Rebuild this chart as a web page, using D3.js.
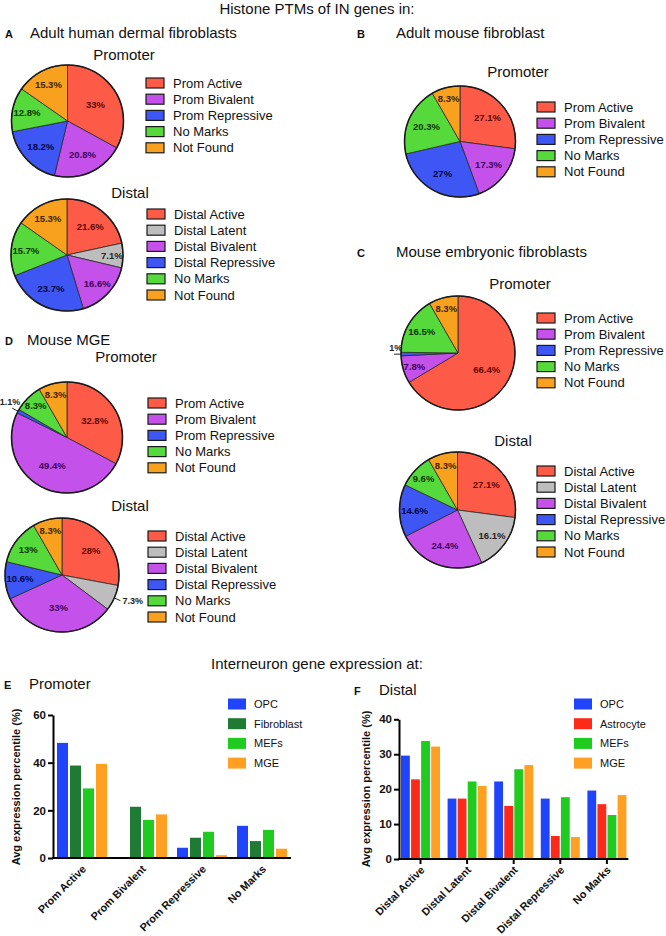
<!DOCTYPE html>
<html>
<head>
<meta charset="utf-8">
<script src="https://cdn.jsdelivr.net/npm/d3@7"></script>
<style>
  html, body { margin: 0; padding: 0; background: #fff; }
  svg { display: block; font-family: "Liberation Sans", Arial, Helvetica, sans-serif; }
</style>
</head>
<body>
<svg id="chart" width="666" height="936"></svg>
<script>
// ---------------- DATA ----------------
const promCats = ["Prom Active", "Prom Bivalent", "Prom Repressive", "No Marks", "Not Found"];
const distCats = ["Distal Active", "Distal Latent", "Distal Bivalent", "Distal Repressive", "No Marks", "Not Found"];

const humanPromoter = [33, 20.8, 18.2, 12.8, 15.3];
const humanDistal   = [21.6, 7.1, 16.6, 23.7, 15.7, 15.3];
const mousePromoter = [27.1, 17.3, 27, 20.3, 8.3];
const mefPromoter   = [66.4, 7.8, 1, 16.5, 8.3];
const mefDistal     = [27.1, 16.1, 24.4, 14.6, 9.6, 8.3];
const mgePromoter   = [32.8, 49.4, 1.1, 8.3, 8.3];
const mgeDistal     = [28, 7.3, 33, 10.6, 13, 8.3];

const promBarCats = ["Prom Active", "Prom Bivalent", "Prom Repressive", "No Marks"];
const promSeries  = ["OPC", "Fibroblast", "MEFs", "MGE"];
const promOPC        = [48.3, 0, 4.3, 13.5];
const promFibroblast = [38.8, 21.5, 8.5, 7.1];
const promMEFs       = [29.2, 16.0, 11.0, 11.8];
const promMGE        = [39.5, 18.3, 1.2, 3.9];
const promTicks      = [0, 20, 40, 60];

const distBarCats = ["Distal Active", "Distal Latent", "Distal Bivalent", "Distal Repressive", "No Marks"];
const distSeries  = ["OPC", "Astrocyte", "MEFs", "MGE"];
const distOPC       = [29.6, 17.3, 22.2, 17.3, 19.6];
const distAstrocyte = [22.8, 17.3, 15.2, 6.6, 15.7];
const distMEFs      = [33.8, 22.2, 25.7, 17.7, 12.6];
const distMGE       = [32.2, 20.9, 26.9, 6.3, 18.3];
const distTicks     = [0, 10, 20, 30, 40];

// ---------------- STYLE ----------------
const markColor = {
  "Active": "#fd5a48", "Latent": "#bdbdbd", "Bivalent": "#c451ea",
  "Repressive": "#3e56f4", "No Marks": "#55d93b", "Not Found": "#f8a11e"
};
const markLabel = {
  "Active": "#5e0800", "Latent": "#222222", "Bivalent": "#40005a",
  "Repressive": "#000640", "No Marks": "#0a3600", "Not Found": "#402300"
};
function markKey(cat) {
  if (cat === "No Marks" || cat === "Not Found") return cat;
  return cat.split(" ")[1];
}
const seriesColor = {
  "OPC": "#1f44fb", "Fibroblast": "#1f7a33", "MEFs": "#1ecb1e",
  "MGE": "#ffa022", "Astrocyte": "#fd2a1a"
};
const FONT = '"Liberation Sans", Arial, Helvetica, sans-serif';

const svg = d3.select("#chart");
svg.append("rect").attr("width", 666).attr("height", 936).attr("fill", "#fff");

function text(x, y, s, opts = {}) {
  return svg.append("text").attr("x", x).attr("y", y)
    .attr("font-size", opts.size || 15)
    .attr("font-weight", opts.weight || "normal")
    .attr("text-anchor", opts.anchor || "start")
    .attr("fill", opts.fill || "#111")
    .text(s);
}

// ---------------- HEADINGS ----------------
text(317, 14, "Histone PTMs of IN genes in:", {anchor: "middle"});
text(5, 38, "A", {size: 11, weight: "bold"});
text(30, 38, "Adult human dermal fibroblasts");
text(357, 38, "B", {size: 11, weight: "bold"});
text(396, 38, "Adult mouse fibroblast");
text(357, 257, "C", {size: 11, weight: "bold"});
text(396, 257, "Mouse embryonic fibroblasts");
text(5, 345, "D", {size: 11, weight: "bold"});
text(27, 345, "Mouse MGE");

text(317, 669, "Interneuron gene expression at:", {anchor: "middle"});
text(4, 689, "E", {size: 11, weight: "bold"});
text(29, 689, "Promoter");
text(354, 695, "F", {size: 11, weight: "bold"});
text(379, 695, "Distal");

// ---------------- PIES ----------------
const pies = [
  {vals: humanPromoter, cats: promCats, cx: 67.5, cy: 121, r: 56, title: "Promoter", tx: 124, ty: 60, lx: 146, ly: 83, outside: []},
  {vals: humanDistal,   cats: distCats, cx: 67,   cy: 255, r: 56, title: "Distal",   tx: 130, ty: 198, lx: 147, ly: 214, outside: []},
  {vals: mousePromoter, cats: promCats, cx: 460,  cy: 141.5, r: 55.5, title: "Promoter", tx: 518, ty: 77, lx: 537, ly: 107, outside: []},
  {vals: mefPromoter,   cats: promCats, cx: 458,  cy: 353, r: 57, title: "Promoter", tx: 520, ty: 289, lx: 537, ly: 318, outside: [2]},
  {vals: mefDistal,     cats: distCats, cx: 457.5, cy: 510, r: 58, title: "Distal", tx: 513, ty: 446, lx: 537, ly: 471, outside: []},
  {vals: mgePromoter,   cats: promCats, cx: 67,   cy: 437.5, r: 55.5, title: "Promoter", tx: 126, ty: 362, lx: 148, ly: 403, outside: [2]},
  {vals: mgeDistal,     cats: distCats, cx: 62,   cy: 575, r: 57, title: "Distal", tx: 130, ty: 511, lx: 148, ly: 536, outside: [1]}
];

function labelFactor(v) {
  if (v < 10) return 0.8;
  if (v < 17) return 0.74;
  if (v < 30) return 0.66;
  return 0.58;
}

pies.forEach(p => {
  text(p.tx, p.ty, p.title, {anchor: "middle"});
  const g = svg.append("g").attr("transform", `translate(${p.cx},${p.cy})`);
  const data = p.vals.map((v, i) => ({v, cat: p.cats[i], i}));
  const arcs = d3.pie().sort(null).value(d => d.v)(data);
  const arc = d3.arc().innerRadius(0).outerRadius(p.r);
  g.selectAll("path.slice").data(arcs).join("path")
    .attr("class", "slice")
    .attr("d", arc)
    .attr("fill", d => markColor[markKey(d.data.cat)])
    .attr("stroke", "#2a2a2a").attr("stroke-width", 0.8);
  g.append("circle").attr("r", p.r).attr("fill", "none")
    .attr("stroke", "#1a1a1a").attr("stroke-width", 1.5);

  arcs.forEach(a => {
    const mid = (a.startAngle + a.endAngle) / 2;
    const sx = Math.sin(mid), sy = -Math.cos(mid);
    const lbl = a.data.v + "%";
    if (p.outside.includes(a.data.i)) {
      const x0 = sx * p.r, y0 = sy * p.r;
      const x1 = sx * p.r * 1.12, y1 = sy * p.r * 1.12;
      g.append("line").attr("x1", x0).attr("y1", y0).attr("x2", x1).attr("y2", y1)
        .attr("stroke", "#222").attr("stroke-width", 1);
      const left = sx < 0;
      g.append("text")
        .attr("x", left ? x1 + 8 : x1 + 2)
        .attr("y", left ? y1 - 3 : y1 + 3.5)
        .attr("text-anchor", left ? "end" : "start")
        .attr("font-size", 9).attr("font-weight", "bold").attr("fill", "#222")
        .text(lbl);
    } else {
      const f = labelFactor(a.data.v) * p.r;
      g.append("text")
        .attr("x", sx * f).attr("y", sy * f)
        .attr("dy", "0.35em")
        .attr("text-anchor", "middle")
        .attr("font-size", 9.5).attr("font-weight", "bold")
        .attr("fill", markLabel[markKey(a.data.cat)])
        .text(lbl);
    }
  });

  // legend
  const lg = svg.append("g").attr("transform", `translate(${p.lx},${p.ly})`);
  p.cats.forEach((c, i) => {
    const row = lg.append("g").attr("transform", `translate(0,${i * 16.2})`);
    row.append("rect").attr("x", 0).attr("y", -5).attr("width", 18).attr("height", 10)
      .attr("fill", markColor[markKey(c)]).attr("stroke", "#1a1a1a").attr("stroke-width", 1.2);
    row.append("text").attr("x", 27).attr("y", 0).attr("dy", "0.36em")
      .attr("font-size", 13).attr("fill", "#111").text(c);
  });
});

// ---------------- BARS ----------------
function barChart(cfg) {
  const y = d3.scaleLinear().domain([0, cfg.max]).range([cfg.y0, cfg.yTop]);
  const x = d3.scaleBand().domain(cfg.cats).range([cfg.x0, cfg.x1])
    .paddingInner(cfg.padIn).paddingOuter(cfg.padOut);
  const xs = d3.scaleBand().domain(cfg.series).range([0, x.bandwidth()]).paddingInner(cfg.subPad);
  const g = svg.append("g");
  cfg.cats.forEach((c, ci) => {
    cfg.series.forEach((s, si) => {
      const v = cfg.values[si][ci];
      if (v <= 0) return;
      g.append("rect")
        .attr("x", x(c) + xs(s)).attr("width", xs.bandwidth())
        .attr("y", y(v)).attr("height", y(0) - y(v))
        .attr("fill", seriesColor[s]);
    });
  });
  // y axis
  const ya = svg.append("g").attr("transform", `translate(${cfg.x0},0)`)
    .call(d3.axisLeft(y).tickValues(cfg.ticks).tickSize(5).tickSizeOuter(0).tickFormat(d3.format("d")));
  ya.select(".domain").attr("stroke", "#000").attr("stroke-width", 2);
  ya.selectAll(".tick line").attr("stroke", "#000").attr("stroke-width", 2);
  ya.selectAll(".tick text").attr("font-size", 11.5).attr("font-weight", "bold")
    .attr("font-family", FONT).attr("fill", "#111").attr("x", -7);
  // x axis
  const xa = svg.append("g").attr("transform", `translate(0,${cfg.y0})`)
    .call(d3.axisBottom(x).tickSize(cfg.xTick).tickSizeOuter(0));
  xa.select(".domain").attr("stroke", "#000").attr("stroke-width", 2)
    .attr("d", `M${cfg.x0 - 1},0H${cfg.x1}`);
  xa.selectAll(".tick line").attr("stroke", "#000").attr("stroke-width", 2);
  xa.selectAll(".tick text")
    .attr("font-size", 10.8).attr("font-weight", "bold").attr("font-family", FONT).attr("fill", "#111")
    .attr("text-anchor", "end")
    .attr("x", 0).attr("y", 0).attr("dy", "0.35em")
    .attr("transform", "translate(2,9) rotate(-45)");
  // y title
  svg.append("text").attr("transform", `translate(${cfg.titleX},${cfg.titleY}) rotate(-90)`)
    .attr("text-anchor", "middle").attr("font-size", 11).attr("font-weight", "bold")
    .attr("fill", "#111").text("Avg expression percentile (%)");
  // legend
  cfg.series.forEach((s, i) => {
    const yy = cfg.legY + i * 19.7;
    svg.append("rect").attr("x", cfg.legX).attr("y", yy - 5.5).attr("width", 18).attr("height", 11)
      .attr("fill", seriesColor[s]);
    svg.append("text").attr("x", cfg.legX + 26).attr("y", yy).attr("dy", "0.36em")
      .attr("font-size", 11).attr("fill", "#111").text(s);
  });
}

barChart({
  cats: promBarCats, series: promSeries,
  values: [promOPC, promFibroblast, promMEFs, promMGE],
  max: 60, ticks: promTicks, y0: 858, yTop: 715,
  x0: 53, x1: 291, padIn: 0.1667, padOut: 0.0667, subPad: 0.154, xTick: 0,
  titleX: 20, titleY: 787, legX: 228, legY: 704
});

barChart({
  cats: distBarCats, series: distSeries,
  values: [distOPC, distAstrocyte, distMEFs, distMGE],
  max: 40, ticks: distTicks, y0: 859, yTop: 719.3,
  x0: 399, x1: 628.4, padIn: 0.163, padOut: 0.043, subPad: 0.124, xTick: 5,
  titleX: 370, titleY: 789, legX: 574, legY: 704
});
</script>
</body>
</html>
